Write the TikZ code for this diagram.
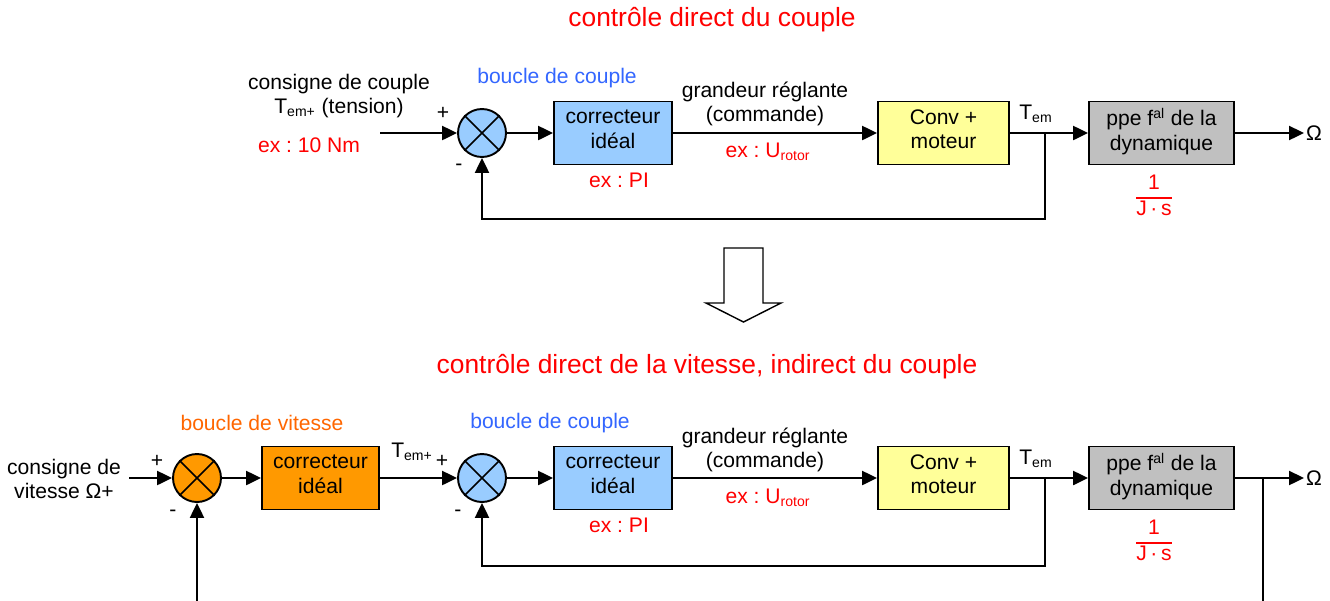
\documentclass[tikz,border=0pt]{standalone}
\usepackage{fontspec}
\setmainfont{Liberation Sans}
\frenchspacing
\usepackage{tikz}
\usetikzlibrary{arrows.meta}

\definecolor{bleubloc}{RGB}{153,204,255}
\definecolor{jaunebloc}{RGB}{255,255,153}
\definecolor{grisbloc}{RGB}{192,192,192}
\definecolor{orangebloc}{RGB}{255,153,0}
\definecolor{bleutxt}{RGB}{51,102,255}
\definecolor{orangetxt}{RGB}{255,102,0}

\begin{document}
\begin{tikzpicture}[x=0.02cm, y=-0.02cm, >={Triangle[length=8.5pt,width=8pt]},
  every node/.style={font=\fontsize{12}{14}\selectfont},
  bloc/.style={draw, line width=1.1pt, minimum height=1.26cm, inner sep=0pt, align=center},
  somme/.style={draw, circle, line width=1.1pt, minimum size=0.96cm, inner sep=0pt},
  fil/.style={line width=1.1pt},
  titre/.style={text=red, font=\fontsize{15}{18}\selectfont},
  rouge/.style={text=red},
  petit/.style={font=\fontsize{12}{14}\selectfont, inner sep=1pt}]
  \useasboundingbox (0,0) rectangle (1330,600);
  \clip (0,0) rectangle (1330,600);

  % Titres
  \node[titre] (t1) at (712,20) {contrôle direct du couple};
  \node[titre] (t2) at (707,367) {contrôle direct de la vitesse, indirect du couple};

  % Flèche creuse
  \draw[line width=0.8pt] (724,248) -- (763,248) -- (763,303) -- (781,303) -- (743.5,322)
    -- (706,303) -- (724,303) -- cycle;

  % ---- Boucle de couple seule ----
  \coordinate (e1) at (380,133);
  \node[somme, fill=bleubloc] (s1) at (482,133) {};
  \draw[line width=0.9pt] (s1.north west) -- (s1.south east) (s1.north east) -- (s1.south west);
  \node[bloc, fill=bleubloc, minimum width=2.36cm] (c1) at (613,133) {correcteur\\idéal\strut};
  \node[bloc, fill=jaunebloc, minimum width=2.62cm] (m1) at (943.5,133) {Conv +\\moteur\strut};
  \node[bloc, fill=grisbloc, minimum width=2.9cm] (d1) at (1161.5,133) {ppe f\textsuperscript{al} de la\\dynamique\strut};
  \node[anchor=west, inner sep=1pt] (w1) at (1304,133) {Ω};
  \coordinate (b1) at (1045,133);

  \draw[fil, ->] (e1) -- (s1);
  \draw[fil, ->] (s1) -- (c1);
  \draw[fil, ->] (c1) -- (m1);
  \draw[fil, ->] (m1) -- (d1);
  \draw[fil, ->] (d1) -- (w1);
  \draw[fil, ->] (b1) -- ++(0,86) -| (s1);

  \node[align=center] (l1) at (339,96) {consigne de couple\\T\textsubscript{em+} (tension)};
  \node[rouge] (l2) at (309,145) {ex : 10 Nm};
  \node[petit] (p1) at (443,113) {+};
  \node[petit] (n1) at (459,167) {-};
  \node[text=bleutxt] (l3) at (557,78) {boucle de couple};
  \node[rouge] (l4) at (619,180) {ex : PI};
  \node[align=center] (l5) at (765,104) {grandeur réglante\\(commande)};
  \node[rouge] (l6) at (768,152) {ex : U\textsubscript{rotor}};
  \node (l7) at (1036,114) {T\textsubscript{em}};
  \node[rouge, inner sep=0pt] (f1) at (1154,198)
    {\setlength{\arrayrulewidth}{0.8pt}\begin{tabular}{@{}c@{}}1\\\hline J\,·\,s\end{tabular}};

  % ---- Boucle de vitesse + boucle de couple ----
  \coordinate (e3) at (129,478);
  \node[somme, fill=orangebloc] (s3) at (197,478) {};
  \draw[line width=0.9pt] (s3.north west) -- (s3.south east) (s3.north east) -- (s3.south west);
  \node[bloc, fill=orangebloc, minimum width=2.34cm] (c3) at (320.5,478) {correcteur\\idéal\strut};
  \node[somme, fill=bleubloc] (s2) at (482,478) {};
  \draw[line width=0.9pt] (s2.north west) -- (s2.south east) (s2.north east) -- (s2.south west);
  \node[bloc, fill=bleubloc, minimum width=2.36cm] (c2) at (613,478) {correcteur\\idéal\strut};
  \node[bloc, fill=jaunebloc, minimum width=2.62cm] (m2) at (943.5,478) {Conv +\\moteur\strut};
  \node[bloc, fill=grisbloc, minimum width=2.9cm] (d2) at (1161.5,478) {ppe f\textsuperscript{al} de la\\dynamique\strut};
  \node[anchor=west, inner sep=1pt] (w2) at (1304,478) {Ω};
  \coordinate (b2) at (1045,478);
  \coordinate (b3) at (1263,478);

  \draw[fil, ->] (e3) -- (s3);
  \draw[fil, ->] (s3) -- (c3);
  \draw[fil, ->] (c3) -- (s2);
  \draw[fil, ->] (s2) -- (c2);
  \draw[fil, ->] (c2) -- (m2);
  \draw[fil, ->] (m2) -- (d2);
  \draw[fil, ->] (d2) -- (w2);
  \draw[fil, ->] (b2) -- ++(0,88) -| (s2);
  \draw[fil, ->] (b3) -- ++(0,160) -| (s3);

  \node[align=center] (l8) at (64,479) {consigne de\\vitesse Ω+};
  \node[petit] (p3) at (157,461) {+};
  \node[petit] (n3) at (173,513) {-};
  \node[text=orangetxt] (l9) at (262,423) {boucle de vitesse};
  \node (l10) at (412,452) {T\textsubscript{em+}};
  \node[petit] (p2) at (442,461) {+};
  \node[petit] (n2) at (458,513) {-};
  \node[text=bleutxt] (l11) at (550,423) {boucle de couple};
  \node[rouge] (l12) at (619,525) {ex : PI};
  \node[align=center] (l13) at (765,450) {grandeur réglante\\(commande)};
  \node[rouge] (l14) at (768,498) {ex : U\textsubscript{rotor}};
  \node (l15) at (1036,459) {T\textsubscript{em}};
  \node[rouge, inner sep=0pt] (f2) at (1154,543)
    {\setlength{\arrayrulewidth}{0.8pt}\begin{tabular}{@{}c@{}}1\\\hline J\,·\,s\end{tabular}};
\end{tikzpicture}
\end{document}
